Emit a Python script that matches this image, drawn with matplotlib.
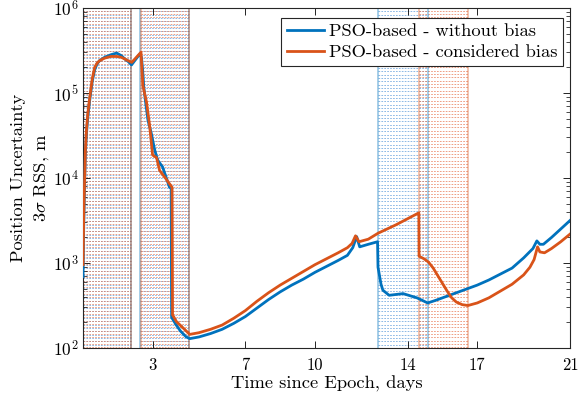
import numpy as np
import matplotlib
matplotlib.use("Agg")
import matplotlib.pyplot as plt
from matplotlib.collections import LineCollection
from matplotlib.transforms import blended_transform_factory

plt.rcParams['font.family'] = ['cmr10', 'DejaVu Serif']
plt.rcParams['mathtext.fontset'] = 'cm'
plt.rcParams['axes.unicode_minus'] = False
plt.rcParams['axes.formatter.use_mathtext'] = True

BLUE = '#0072BD'
ORANGE = '#D95319'

# Blue: PSO-based - without bias (days, log10 of RSS in m)
days_blue = [0.0, 0.03, 0.065, 0.1, 0.15, 0.2, 0.28, 0.4, 0.5, 0.6, 0.71, 0.93, 1.2, 1.45, 1.65,
             1.8, 1.95, 2.09, 2.45, 2.52, 2.57, 2.62, 2.7, 2.8, 2.94, 3.09, 3.22, 3.43, 3.73, 3.8,
             3.82, 4.02, 4.2, 4.45, 4.6, 5.0, 5.5, 6.0, 6.5, 7.0, 7.5, 8.0, 8.5, 9.0, 9.5, 10.0,
             10.5, 11.0, 11.4, 11.63, 11.8, 11.93, 12.3, 12.7, 12.72, 12.85, 12.93, 13.2, 13.8,
             14.4, 14.86, 15.2, 15.6, 16.0, 16.5, 17.0, 17.5, 18.0, 18.5, 19.0, 19.4, 19.57,
             19.7, 19.85, 20.2, 20.6, 21.0]
log_blue = [2.84, 3.45, 3.9, 4.28, 4.53, 4.7, 4.9, 5.14, 5.27, 5.34, 5.38, 5.42, 5.45, 5.47, 5.44,
            5.4, 5.37, 5.33, 5.46, 5.42, 5.27, 5.07, 4.89, 4.68, 4.53, 4.33, 4.21, 4.13, 3.89, 3.88,
            2.36, 2.27, 2.2, 2.13, 2.11, 2.13, 2.17, 2.22, 2.29, 2.37, 2.47, 2.57, 2.66, 2.74, 2.81, 2.89,
            2.96, 3.03, 3.09, 3.18, 3.31, 3.19, 3.22, 3.25, 2.95, 2.75, 2.68, 2.62, 2.64,
            2.59, 2.53, 2.56, 2.60, 2.64, 2.69, 2.74, 2.80, 2.87, 2.94, 3.06, 3.17, 3.26,
            3.22, 3.22, 3.30, 3.40, 3.50]

# Orange: PSO-based - considered bias
days_orange = [0.0, 0.03, 0.065, 0.1, 0.15, 0.2, 0.28, 0.4, 0.5, 0.6, 0.71, 0.93, 1.2, 1.45, 1.65,
               1.8, 1.95, 2.1, 2.5, 2.58, 2.74, 2.87, 3.0, 3.17, 3.3, 3.55, 3.84, 3.86, 4.03, 4.3,
               4.6, 5.0, 5.5, 6.0, 6.5, 7.0, 7.5, 8.0, 8.5, 9.0, 9.5, 10.0, 10.5, 11.0, 11.4,
               11.6, 11.75, 11.9, 12.3, 12.72, 13.5, 14.48, 14.49, 14.7, 14.9, 15.1, 15.3, 15.5,
               15.7, 15.9, 16.1, 16.35, 16.6, 17.0, 17.5, 18.0, 18.5, 19.0, 19.27, 19.45, 19.6,
               19.7, 19.9, 20.2, 20.6, 21.0]
log_orange = [2.98, 3.55, 3.94, 4.32, 4.57, 4.74, 4.93, 5.17, 5.3, 5.35, 5.38, 5.41, 5.43, 5.43, 5.42,
              5.4, 5.38, 5.36, 5.48, 5.09, 4.89, 4.62, 4.27, 4.24, 4.09, 4.0, 3.89, 2.39, 2.31, 2.24,
              2.16, 2.18, 2.22, 2.27, 2.35, 2.44, 2.55, 2.65, 2.74, 2.82, 2.90, 2.98, 3.05, 3.12, 3.18,
              3.23, 3.32, 3.25, 3.28, 3.35, 3.45, 3.59, 3.08, 3.05, 3.01, 2.94, 2.85, 2.76,
              2.67, 2.59, 2.54, 2.51, 2.50, 2.53, 2.59, 2.67, 2.75, 2.86, 2.95, 3.04, 3.19,
              3.13, 3.12, 3.17, 3.25, 3.34]

# Shaded intervals (days)
blue_windows = [(0.0, 2.09), (2.47, 4.57), (12.72, 14.86)]
orange_windows = [(0.0, 2.09), (2.52, 4.57), (14.49, 16.6)]

xticks = [3, 7, 10, 14, 17, 21]

fig = plt.figure(figsize=(5.79, 4.0), dpi=100)
ax = fig.add_axes([0.1434, 0.13, 0.8411, 0.85])
ax.set_yscale('log')
ax.set_xlim(0, 21)
ax.set_ylim(1e2, 1e6)

trans = blended_transform_factory(ax.transData, ax.transAxes)
nlines = 103
fr = np.linspace(0, 1, nlines)

def draw_windows(windows, color, edge, offset):
    for (a, b) in windows:
        segs = [[(a, f + offset), (b, f + offset)] for f in fr if 0 <= f + offset <= 1]
        lc = LineCollection(segs, colors=color, linewidths=0.6, linestyles=[(0, (2, 1.5))],
                            transform=trans, zorder=1)
        ax.add_collection(lc)
        for xe in (a, b):
            ax.axvline(xe, color=edge, lw=1.4, zorder=1.5)

draw_windows(blue_windows, (0.35, 0.6, 0.85, 0.8), (0.0, 0.45, 0.74, 0.35), 0.0)
draw_windows(orange_windows, (0.9, 0.45, 0.3, 0.8), (0.85, 0.33, 0.1, 0.35), 0.0015)

ax.plot(days_blue, np.power(10.0, log_blue), color=BLUE, lw=2.0, zorder=3,
        label='PSO-based - without bias')
ax.plot(days_orange, np.power(10.0, log_orange), color=ORANGE, lw=2.0, zorder=3,
        label='PSO-based - considered bias')

ax.set_xticks(xticks)
ax.set_xticklabels([str(t) for t in xticks])
ax.tick_params(which='both', direction='in', top=True, right=True)
ax.tick_params(axis='x', labelsize=12, pad=7)
ax.tick_params(axis='y', labelsize=12.5, pad=3)
ax.tick_params(which='major', length=5, width=0.6)
ax.tick_params(which='minor', length=3, width=0.5)
for s in ax.spines.values():
    s.set_linewidth(0.8)
    s.set_color('#262626')

ax.set_xlabel('Time since Epoch, days', fontsize=13.3, labelpad=2)
ax.set_ylabel('Position Uncertainty\n$3\\sigma$ RSS, m', fontsize=13.3, linespacing=1.45)
ax.yaxis.set_label_coords(-0.066, 0.5)

leg = ax.legend(loc='upper right', bbox_to_anchor=(0.986, 0.972), borderaxespad=0,
                fontsize=13.3, fancybox=False, framealpha=1, edgecolor='#262626',
                handlelength=2.0, handletextpad=0.3, borderpad=0.3, labelspacing=0.3)
leg.get_frame().set_linewidth(0.8)
leg.set_zorder(5)

fig.savefig('out.png', dpi=100)
